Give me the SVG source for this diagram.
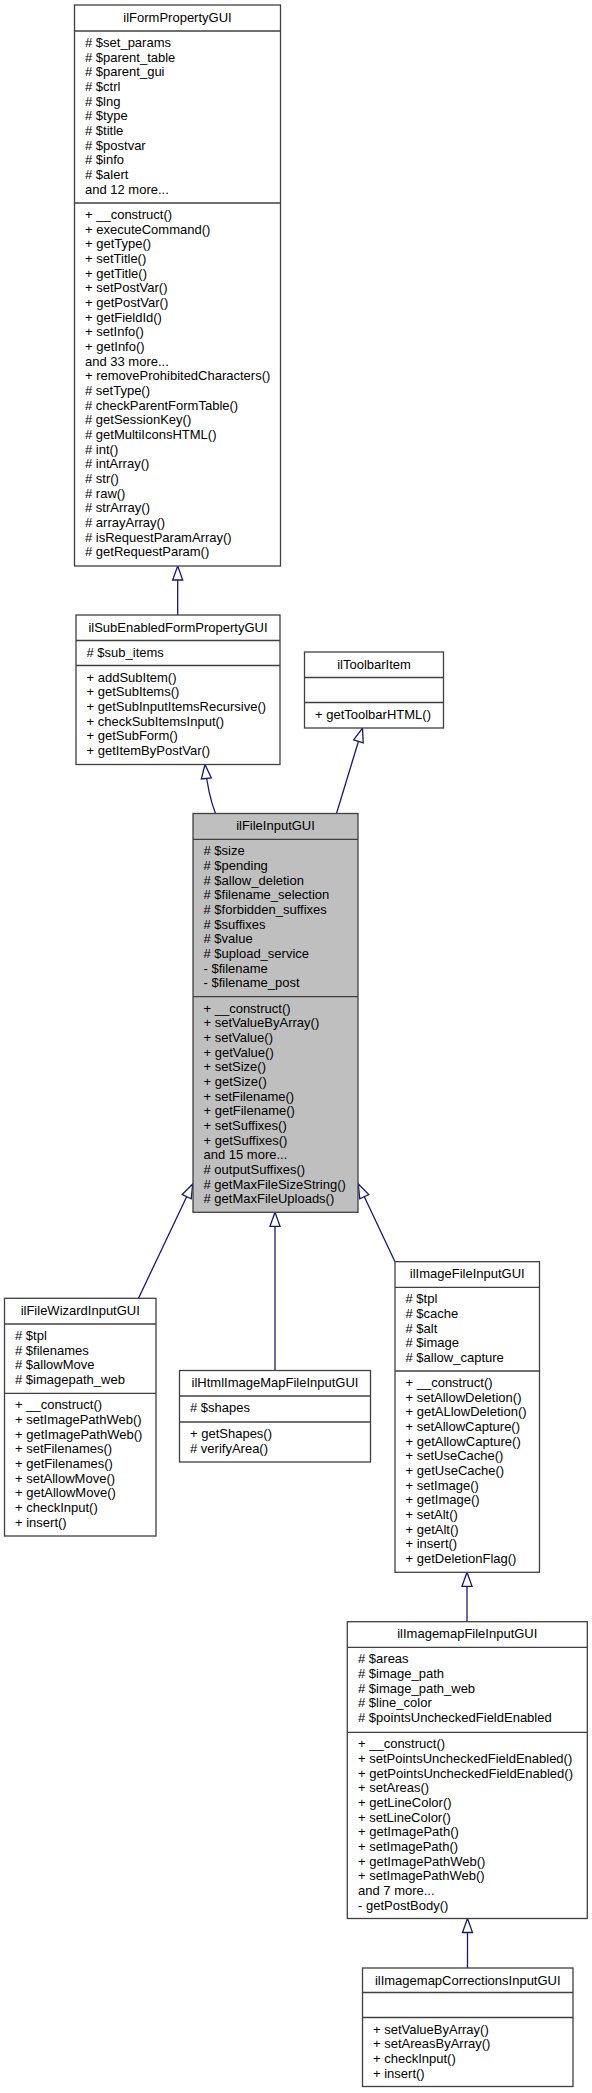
<svg xmlns="http://www.w3.org/2000/svg" width="592" height="2093" viewBox="0 0 592 2093">
<style>
.box{fill:#fff;stroke:#404040;stroke-width:1.3}
.hl{fill:#bfbfbf}
.sep{stroke:#404040;stroke-width:1.3}
.t{font-family:"Liberation Sans",Arial,Helvetica,sans-serif;font-size:13px;fill:#000}
.c{text-anchor:middle}
.edge{fill:none;stroke:#191970;stroke-width:1.3;marker-end:url(#inh)}
</style>
<defs>
<marker id="inh" markerUnits="userSpaceOnUse" markerWidth="16" markerHeight="12" refX="14" refY="5" orient="auto" overflow="visible">
<path d="M0,0 L14,5 L0,10 Z" fill="#fff" stroke="#191970" stroke-width="1.3"/>
</marker>
</defs>
<rect width="592" height="2093" fill="#fff"/>
<g id="connectors">
<path class="edge" d="M177.7,615 L177.7,566"/>
<path class="edge" d="M215.5,813.5 C211,802 207,785 205,764.5"/>
<path class="edge" d="M336.5,813.5 L362.5,728"/>
<path class="edge" d="M138.5,1298.3 L192.7,1184"/>
<path class="edge" d="M275,1370.5 L275,1212.3"/>
<path class="edge" d="M395,1261.7 L358.3,1184"/>
<path class="edge" d="M467,1621.7 L467,1572.3"/>
<path class="edge" d="M467.5,1968 L467.5,1918.5"/>
</g>
<g id="ilFormPropertyGUI">
<rect class="box" x="74.5" y="5" width="206" height="561"/>
<line class="sep" x1="74.5" y1="31" x2="280.5" y2="31"/>
<line class="sep" x1="74.5" y1="203" x2="280.5" y2="203"/>
<text class="t c" x="177.5" y="21.5">ilFormPropertyGUI</text>
<text class="t" x="85" y="47"><tspan x="85"># $set_params</tspan><tspan x="85" dy="14.67"># $parent_table</tspan><tspan x="85" dy="14.67"># $parent_gui</tspan><tspan x="85" dy="14.67"># $ctrl</tspan><tspan x="85" dy="14.67"># $lng</tspan><tspan x="85" dy="14.67"># $type</tspan><tspan x="85" dy="14.67"># $title</tspan><tspan x="85" dy="14.67"># $postvar</tspan><tspan x="85" dy="14.67"># $info</tspan><tspan x="85" dy="14.67"># $alert</tspan><tspan x="85" dy="14.67">and 12 more...</tspan></text>
<text class="t" x="85" y="219"><tspan x="85">+ __construct()</tspan><tspan x="85" dy="14.67">+ executeCommand()</tspan><tspan x="85" dy="14.67">+ getType()</tspan><tspan x="85" dy="14.67">+ setTitle()</tspan><tspan x="85" dy="14.67">+ getTitle()</tspan><tspan x="85" dy="14.67">+ setPostVar()</tspan><tspan x="85" dy="14.67">+ getPostVar()</tspan><tspan x="85" dy="14.67">+ getFieldId()</tspan><tspan x="85" dy="14.67">+ setInfo()</tspan><tspan x="85" dy="14.67">+ getInfo()</tspan><tspan x="85" dy="14.67">and 33 more...</tspan><tspan x="85" dy="14.67">+ removeProhibitedCharacters()</tspan><tspan x="85" dy="14.67"># setType()</tspan><tspan x="85" dy="14.67"># checkParentFormTable()</tspan><tspan x="85" dy="14.67"># getSessionKey()</tspan><tspan x="85" dy="14.67"># getMultiIconsHTML()</tspan><tspan x="85" dy="14.67"># int()</tspan><tspan x="85" dy="14.67"># intArray()</tspan><tspan x="85" dy="14.67"># str()</tspan><tspan x="85" dy="14.67"># raw()</tspan><tspan x="85" dy="14.67"># strArray()</tspan><tspan x="85" dy="14.67"># arrayArray()</tspan><tspan x="85" dy="14.67"># isRequestParamArray()</tspan><tspan x="85" dy="14.67"># getRequestParam()</tspan></text>
</g>
<g id="ilSubEnabledFormPropertyGUI">
<rect class="box" x="76" y="615" width="204" height="149.5"/>
<line class="sep" x1="76" y1="640.5" x2="280" y2="640.5"/>
<line class="sep" x1="76" y1="665.5" x2="280" y2="665.5"/>
<text class="t c" x="178" y="631.5">ilSubEnabledFormPropertyGUI</text>
<text class="t" x="86.5" y="656.5"># $sub_items</text>
<text class="t" x="86.5" y="681.5"><tspan x="86.5">+ addSubItem()</tspan><tspan x="86.5" dy="14.67">+ getSubItems()</tspan><tspan x="86.5" dy="14.67">+ getSubInputItemsRecursive()</tspan><tspan x="86.5" dy="14.67">+ checkSubItemsInput()</tspan><tspan x="86.5" dy="14.67">+ getSubForm()</tspan><tspan x="86.5" dy="14.67">+ getItemByPostVar()</tspan></text>
</g>
<g id="ilToolbarItem">
<rect class="box" x="304.5" y="652" width="139" height="76"/>
<line class="sep" x1="304.5" y1="677.5" x2="443.5" y2="677.5"/>
<line class="sep" x1="304.5" y1="702.5" x2="443.5" y2="702.5"/>
<text class="t c" x="374" y="668.5">ilToolbarItem</text>
<text class="t" x="315" y="718.5">+ getToolbarHTML()</text>
</g>
<g id="ilFileInputGUI">
<rect class="box hl" x="193" y="813.5" width="165" height="398.8"/>
<line class="sep" x1="193" y1="839.3" x2="358" y2="839.3"/>
<line class="sep" x1="193" y1="996.7" x2="358" y2="996.7"/>
<text class="t c" x="275.5" y="830">ilFileInputGUI</text>
<text class="t" x="203.5" y="855.3"><tspan x="203.5"># $size</tspan><tspan x="203.5" dy="14.67"># $pending</tspan><tspan x="203.5" dy="14.67"># $allow_deletion</tspan><tspan x="203.5" dy="14.67"># $filename_selection</tspan><tspan x="203.5" dy="14.67"># $forbidden_suffixes</tspan><tspan x="203.5" dy="14.67"># $suffixes</tspan><tspan x="203.5" dy="14.67"># $value</tspan><tspan x="203.5" dy="14.67"># $upload_service</tspan><tspan x="203.5" dy="14.67">- $filename</tspan><tspan x="203.5" dy="14.67">- $filename_post</tspan></text>
<text class="t" x="203.5" y="1012.7"><tspan x="203.5">+ __construct()</tspan><tspan x="203.5" dy="14.67">+ setValueByArray()</tspan><tspan x="203.5" dy="14.67">+ setValue()</tspan><tspan x="203.5" dy="14.67">+ getValue()</tspan><tspan x="203.5" dy="14.67">+ setSize()</tspan><tspan x="203.5" dy="14.67">+ getSize()</tspan><tspan x="203.5" dy="14.67">+ setFilename()</tspan><tspan x="203.5" dy="14.67">+ getFilename()</tspan><tspan x="203.5" dy="14.67">+ setSuffixes()</tspan><tspan x="203.5" dy="14.67">+ getSuffixes()</tspan><tspan x="203.5" dy="14.67">and 15 more...</tspan><tspan x="203.5" dy="14.67"># outputSuffixes()</tspan><tspan x="203.5" dy="14.67"># getMaxFileSizeString()</tspan><tspan x="203.5" dy="14.67"># getMaxFileUploads()</tspan></text>
</g>
<g id="ilFileWizardInputGUI">
<rect class="box" x="4.5" y="1298.3" width="151.5" height="237.7"/>
<line class="sep" x1="4.5" y1="1324" x2="156" y2="1324"/>
<line class="sep" x1="4.5" y1="1393.3" x2="156" y2="1393.3"/>
<text class="t c" x="80.25" y="1314.8">ilFileWizardInputGUI</text>
<text class="t" x="15" y="1340"><tspan x="15"># $tpl</tspan><tspan x="15" dy="14.67"># $filenames</tspan><tspan x="15" dy="14.67"># $allowMove</tspan><tspan x="15" dy="14.67"># $imagepath_web</tspan></text>
<text class="t" x="15" y="1409.3"><tspan x="15">+ __construct()</tspan><tspan x="15" dy="14.67">+ setImagePathWeb()</tspan><tspan x="15" dy="14.67">+ getImagePathWeb()</tspan><tspan x="15" dy="14.67">+ setFilenames()</tspan><tspan x="15" dy="14.67">+ getFilenames()</tspan><tspan x="15" dy="14.67">+ setAllowMove()</tspan><tspan x="15" dy="14.67">+ getAllowMove()</tspan><tspan x="15" dy="14.67">+ checkInput()</tspan><tspan x="15" dy="14.67">+ insert()</tspan></text>
</g>
<g id="ilHtmlImageMapFileInputGUI">
<rect class="box" x="179.5" y="1370.5" width="191" height="91.5"/>
<line class="sep" x1="179.5" y1="1396" x2="370.5" y2="1396"/>
<line class="sep" x1="179.5" y1="1422" x2="370.5" y2="1422"/>
<text class="t c" x="275" y="1387">ilHtmlImageMapFileInputGUI</text>
<text class="t" x="190" y="1412"># $shapes</text>
<text class="t" x="190" y="1438"><tspan x="190">+ getShapes()</tspan><tspan x="190" dy="14.67"># verifyArea()</tspan></text>
</g>
<g id="ilImageFileInputGUI">
<rect class="box" x="395" y="1261.7" width="144.5" height="310.6"/>
<line class="sep" x1="395" y1="1287.3" x2="539.5" y2="1287.3"/>
<line class="sep" x1="395" y1="1371" x2="539.5" y2="1371"/>
<text class="t c" x="467.25" y="1278.2">ilImageFileInputGUI</text>
<text class="t" x="405.5" y="1303.3"><tspan x="405.5"># $tpl</tspan><tspan x="405.5" dy="14.67"># $cache</tspan><tspan x="405.5" dy="14.67"># $alt</tspan><tspan x="405.5" dy="14.67"># $image</tspan><tspan x="405.5" dy="14.67"># $allow_capture</tspan></text>
<text class="t" x="405.5" y="1387"><tspan x="405.5">+ __construct()</tspan><tspan x="405.5" dy="14.67">+ setAllowDeletion()</tspan><tspan x="405.5" dy="14.67">+ getALlowDeletion()</tspan><tspan x="405.5" dy="14.67">+ setAllowCapture()</tspan><tspan x="405.5" dy="14.67">+ getAllowCapture()</tspan><tspan x="405.5" dy="14.67">+ setUseCache()</tspan><tspan x="405.5" dy="14.67">+ getUseCache()</tspan><tspan x="405.5" dy="14.67">+ setImage()</tspan><tspan x="405.5" dy="14.67">+ getImage()</tspan><tspan x="405.5" dy="14.67">+ setAlt()</tspan><tspan x="405.5" dy="14.67">+ getAlt()</tspan><tspan x="405.5" dy="14.67">+ insert()</tspan><tspan x="405.5" dy="14.67">+ getDeletionFlag()</tspan></text>
</g>
<g id="ilImagemapFileInputGUI">
<rect class="box" x="347.3" y="1621.7" width="240" height="296.8"/>
<line class="sep" x1="347.3" y1="1647.3" x2="587.3" y2="1647.3"/>
<line class="sep" x1="347.3" y1="1732.3" x2="587.3" y2="1732.3"/>
<text class="t c" x="467.3" y="1638.2">ilImagemapFileInputGUI</text>
<text class="t" x="358" y="1663.3"><tspan x="358"># $areas</tspan><tspan x="358" dy="14.67"># $image_path</tspan><tspan x="358" dy="14.67"># $image_path_web</tspan><tspan x="358" dy="14.67"># $line_color</tspan><tspan x="358" dy="14.67"># $pointsUncheckedFieldEnabled</tspan></text>
<text class="t" x="358" y="1748.3"><tspan x="358">+ __construct()</tspan><tspan x="358" dy="14.67">+ setPointsUncheckedFieldEnabled()</tspan><tspan x="358" dy="14.67">+ getPointsUncheckedFieldEnabled()</tspan><tspan x="358" dy="14.67">+ setAreas()</tspan><tspan x="358" dy="14.67">+ getLineColor()</tspan><tspan x="358" dy="14.67">+ setLineColor()</tspan><tspan x="358" dy="14.67">+ getImagePath()</tspan><tspan x="358" dy="14.67">+ setImagePath()</tspan><tspan x="358" dy="14.67">+ getImagePathWeb()</tspan><tspan x="358" dy="14.67">+ setImagePathWeb()</tspan><tspan x="358" dy="14.67">and 7 more...</tspan><tspan x="358" dy="14.67">- getPostBody()</tspan></text>
</g>
<g id="ilImagemapCorrectionsInputGUI">
<rect class="box" x="362.5" y="1968" width="210.5" height="118.5"/>
<line class="sep" x1="362.5" y1="1992.5" x2="573" y2="1992.5"/>
<line class="sep" x1="362.5" y1="2017.5" x2="573" y2="2017.5"/>
<text class="t c" x="467.75" y="1984.5">ilImagemapCorrectionsInputGUI</text>
<text class="t" x="373" y="2033.5"><tspan x="373">+ setValueByArray()</tspan><tspan x="373" dy="14.67">+ setAreasByArray()</tspan><tspan x="373" dy="14.67">+ checkInput()</tspan><tspan x="373" dy="14.67">+ insert()</tspan></text>
</g>
</svg>
